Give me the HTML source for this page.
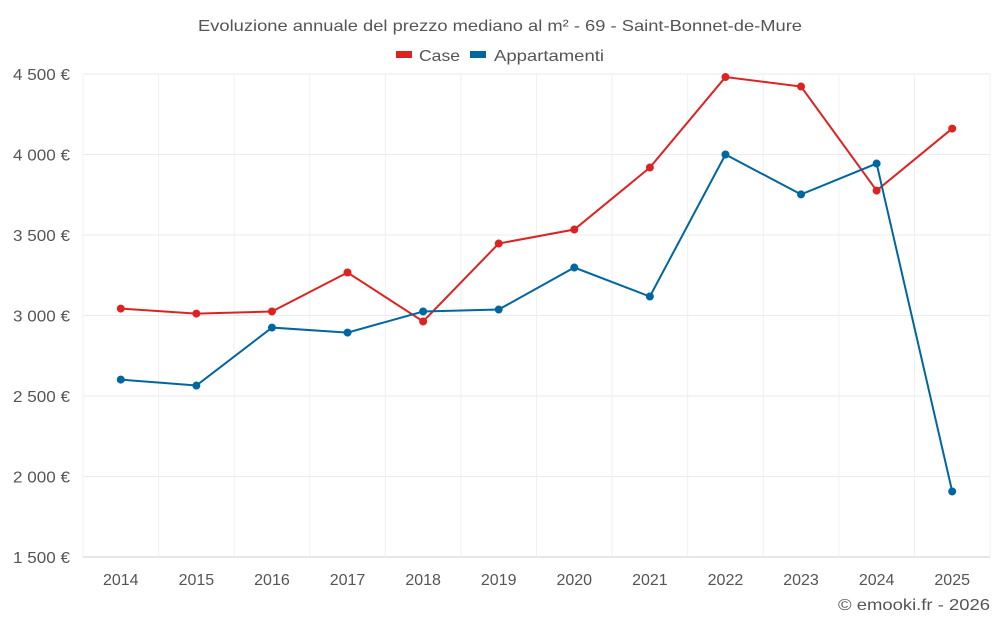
<!DOCTYPE html>
<html><head><meta charset="utf-8"><style>
body{margin:0;background:#fff;font-family:"Liberation Sans",sans-serif;}
svg text{font-family:"Liberation Sans",sans-serif;fill:#555;}
</style></head><body>
<svg id="chart" width="1000" height="625" xmlns="http://www.w3.org/2000/svg">
<text x="500" y="31" text-anchor="middle" font-size="16" fill="#666" textLength="604" lengthAdjust="spacingAndGlyphs">Evoluzione annuale del prezzo mediano al m² - 69 - Saint-Bonnet-de-Mure</text>
<g>
<g><rect x="396" y="51" width="16" height="7" fill="#dd2222"/><text x="419" y="61" font-size="16" textLength="41" lengthAdjust="spacingAndGlyphs">Case</text></g>
<g><rect x="470" y="51" width="16" height="7" fill="#0066a0"/><text x="494" y="61" font-size="16" textLength="110" lengthAdjust="spacingAndGlyphs">Appartamenti</text></g>
</g>
<g id="grid"></g><g id="axes"></g><g id="series"></g>
<text x="990" y="610" text-anchor="end" font-size="16" textLength="152" lengthAdjust="spacingAndGlyphs">© emooki.fr - 2026</text>
</svg>
<script>
const years=[2014,2015,2016,2017,2018,2019,2020,2021,2022,2023,2024,2025];
const caseValues=[3043,3012,3025,3267,2963,3447,3534,3919,4481,4422,3776,4161];
const appValues=[2602,2565,2925,2894,3025,3037,3298,3118,4000,3752,3944,1907];
const yTicks=[1500,2000,2500,3000,3500,4000,4500];
const yTickLabels=["1 500 €","2 000 €","2 500 €","3 000 €","3 500 €","4 000 €","4 500 €"];
const L=83,R=990,T=74,B=557,ymin=1500,ymax=4500;
const step=(R-L)/years.length;
function x(i){return L+step*(i+0.5);}
function y(v){return B-(v-ymin)/(ymax-ymin)*(B-T);}
const NS="http://www.w3.org/2000/svg";
function mk(t,a,p){const e=document.createElementNS(NS,t);for(const k in a)e.setAttribute(k,a[k]);p.appendChild(e);return e;}
const grid=document.getElementById('grid'),axes=document.getElementById('axes'),ser=document.getElementById('series');
yTicks.forEach((v,i)=>{
 const l=mk('line',{x1:L,x2:R,y1:y(v),y2:y(v),stroke:i==0?'#ccc':'#ebebeb'},grid);
 
 
 const t=mk('text',{x:70,y:y(v)+6,'text-anchor':'end','font-size':16,textLength:57,lengthAdjust:'spacingAndGlyphs'},axes);
 t.textContent=yTickLabels[i];
 
 
});
for(let i=0;i<=years.length;i++){
 const l=mk('line',{x1:L+step*i,x2:L+step*i,y1:T,y2:B,stroke:'#f0f0f0'},grid);
 
 
}
years.forEach((yr,i)=>{
 const t=mk('text',{x:x(i),y:585,'text-anchor':'middle','font-size':16},axes);
 t.textContent=yr;
 
 
});
function draw(vals,color,name){
 const p=mk('polyline',{points:vals.map((v,i)=>x(i)+','+y(v)).join(' '),fill:'none',stroke:color,'stroke-width':2},ser);
 
 
 vals.forEach((v,i)=>{
  const c=mk('circle',{cx:x(i),cy:y(v),r:4,fill:color},ser);
  
  
 });
}
draw(caseValues,'#dd2222','case');
draw(appValues,'#0066a0','appartamenti');
</script>
</body></html>
